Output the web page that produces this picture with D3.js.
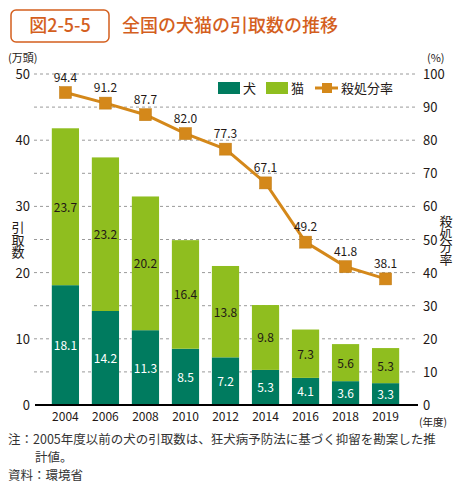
<!DOCTYPE html>
<html><head><meta charset="utf-8">
<script src="https://cdn.jsdelivr.net/npm/d3@7"></script>
<style>
body{margin:0;background:#fff;}
svg{font-family:"Noto Sans CJK JP","Noto Sans",sans-serif;}
</style></head>
<body>
<svg id="c" width="463" height="490"></svg>
<script>
const years = ["2004","2006","2008","2010","2012","2014","2016","2018","2019"];
const dogs = [18.1,14.2,11.3,8.5,7.2,5.3,4.1,3.6,3.3];
const cats = [23.7,23.2,20.2,16.4,13.8,9.8,7.3,5.6,5.3];
const rate = [94.4,91.2,87.7,82.0,77.3,67.1,49.2,41.8,38.1];
const leftTicks = [0,10,20,30,40,50];
const rightTicks = [0,10,20,30,40,50,60,70,80,90,100];

const cDog="#007b5f", cCat="#8fbe1f", cLine="#d4881a", cTitle="#d45f1e", cText="#231815";
const svg = d3.select("#c");

// title
svg.append("rect").attr("x",11).attr("y",10).attr("width",98).attr("height",32).attr("rx",5)
  .attr("fill","#fff").attr("stroke",cTitle).attr("stroke-width",1.5);
svg.append("text").attr("x",60).attr("y",32).attr("text-anchor","middle").attr("fill",cTitle)
  .attr("font-size",18).attr("font-weight",500).text("図2-5-5");
svg.append("text").attr("x",122).attr("y",32).attr("fill",cTitle)
  .attr("font-size",18).attr("font-weight",500).text("全国の犬猫の引取数の推移");

const x = d3.scaleBand().domain(years).range([39,412]).padding(0.32);
const yL = d3.scaleLinear().domain([0,50]).range([405,74]);
const yR = d3.scaleLinear().domain([0,100]).range([405,74]);

// gridlines
const gridVals = d3.range(5,51,5);
svg.append("g").selectAll("line").data(gridVals).join("line")
  .attr("x1",34).attr("x2",418).attr("y1",d=>yL(d)).attr("y2",d=>yL(d))
  .attr("stroke","#9a9a9a").attr("stroke-width",1).attr("stroke-dasharray","3,3");

// axis labels
svg.append("g").selectAll("text").data(leftTicks).join("text")
  .attr("x",30).attr("y",d=>yL(d)+5).attr("text-anchor","end").attr("font-size",13).attr("fill",cText)
  .text(d=>d);
svg.append("g").selectAll("text").data(rightTicks).join("text")
  .attr("x",423).attr("y",d=>yR(d)+5).attr("font-size",13).attr("fill",cText)
  .text(d=>d);

svg.append("text").attr("x",8).attr("y",62).attr("font-size",11).attr("fill",cText).text("(万頭)");
svg.append("text").attr("x",427).attr("y",62).attr("font-size",11).attr("fill",cText).text("(%)");

// vertical axis titles
svg.append("text").attr("x",18).attr("y",221).attr("font-size",13).attr("fill",cText)
  .style("writing-mode","vertical-rl").style("text-orientation","upright").style("letter-spacing","-0.5px").text("引取数");
svg.append("text").attr("x",446).attr("y",215).attr("font-size",13).attr("fill",cText)
  .style("writing-mode","vertical-rl").style("text-orientation","upright").style("letter-spacing","-0.5px").text("殺処分率");

// bars
const g = svg.append("g");
years.forEach((yr,i)=>{
  const bx = x(yr), bw = x.bandwidth();
  g.append("rect").attr("x",bx).attr("width",bw).attr("y",yL(dogs[i])).attr("height",yL(0)-yL(dogs[i])).attr("fill",cDog);
  g.append("rect").attr("x",bx).attr("width",bw).attr("y",yL(dogs[i]+cats[i])).attr("height",yL(dogs[i])-yL(dogs[i]+cats[i])).attr("fill",cCat);
  g.append("text").attr("x",bx+bw/2).attr("y",(yL(0)+yL(dogs[i]))/2+5).attr("text-anchor","middle")
    .attr("font-size",12).attr("fill","#fff").text(dogs[i].toFixed(1));
  g.append("text").attr("x",bx+bw/2).attr("y",(yL(dogs[i])+yL(dogs[i]+cats[i]))/2+5).attr("text-anchor","middle")
    .attr("font-size",12).attr("fill",cText).text(cats[i].toFixed(1));
});

// baseline
svg.append("line").attr("x1",35).attr("x2",418).attr("y1",405).attr("y2",405).attr("stroke","#000").attr("stroke-width",2);

// x labels
svg.append("g").selectAll("text").data(years).join("text")
  .attr("x",d=>x(d)+x.bandwidth()/2).attr("y",421).attr("text-anchor","middle").attr("font-size",12).attr("fill",cText).text(d=>d);
svg.append("text").attr("x",433).attr("y",426).attr("text-anchor","middle").attr("font-size",10.5).attr("fill",cText).text("(年度)");

// line
const line = d3.line().x((d,i)=>x(years[i])+x.bandwidth()/2).y(d=>yR(d));
svg.append("path").datum(rate).attr("d",line).attr("fill","none").attr("stroke",cLine).attr("stroke-width",3);
svg.append("g").selectAll("rect").data(rate).join("rect")
  .attr("x",(d,i)=>x(years[i])+x.bandwidth()/2-6).attr("y",d=>yR(d)-6).attr("width",12).attr("height",12)
  .attr("fill",cLine).attr("stroke","#c07a10").attr("stroke-width",0.5);
svg.append("g").selectAll("text").data(rate).join("text")
  .attr("x",(d,i)=>x(years[i])+x.bandwidth()/2).attr("y",d=>yR(d)-11).attr("text-anchor","middle")
  .attr("font-size",12).attr("fill",cText).text(d=>d.toFixed(1));

// legend
const lg = svg.append("g");
lg.append("rect").attr("x",218).attr("y",82).attr("width",22).attr("height",12).attr("fill",cDog);
lg.append("text").attr("x",243).attr("y",93).attr("font-size",13).attr("fill",cText).text("犬");
lg.append("rect").attr("x",266).attr("y",82).attr("width",22).attr("height",12).attr("fill",cCat);
lg.append("text").attr("x",291).attr("y",93).attr("font-size",13).attr("fill",cText).text("猫");
lg.append("line").attr("x1",315).attr("x2",338).attr("y1",88).attr("y2",88).attr("stroke",cLine).attr("stroke-width",3);
lg.append("rect").attr("x",322).attr("y",83).attr("width",10).attr("height",10).attr("fill",cLine);
lg.append("text").attr("x",341).attr("y",93).attr("font-size",13).attr("fill",cText).text("殺処分率");

// footnotes
const fn = [["注：2005年度以前の犬の引取数は、狂犬病予防法に基づく抑留を勘案した推",8,444],["計値。",35,462],["資料：環境省",8,480]];
fn.forEach(f=>svg.append("text").attr("x",f[1]).attr("y",f[2]).attr("font-size",12.5).attr("fill","#333").text(f[0]));
</script>
</body></html>
